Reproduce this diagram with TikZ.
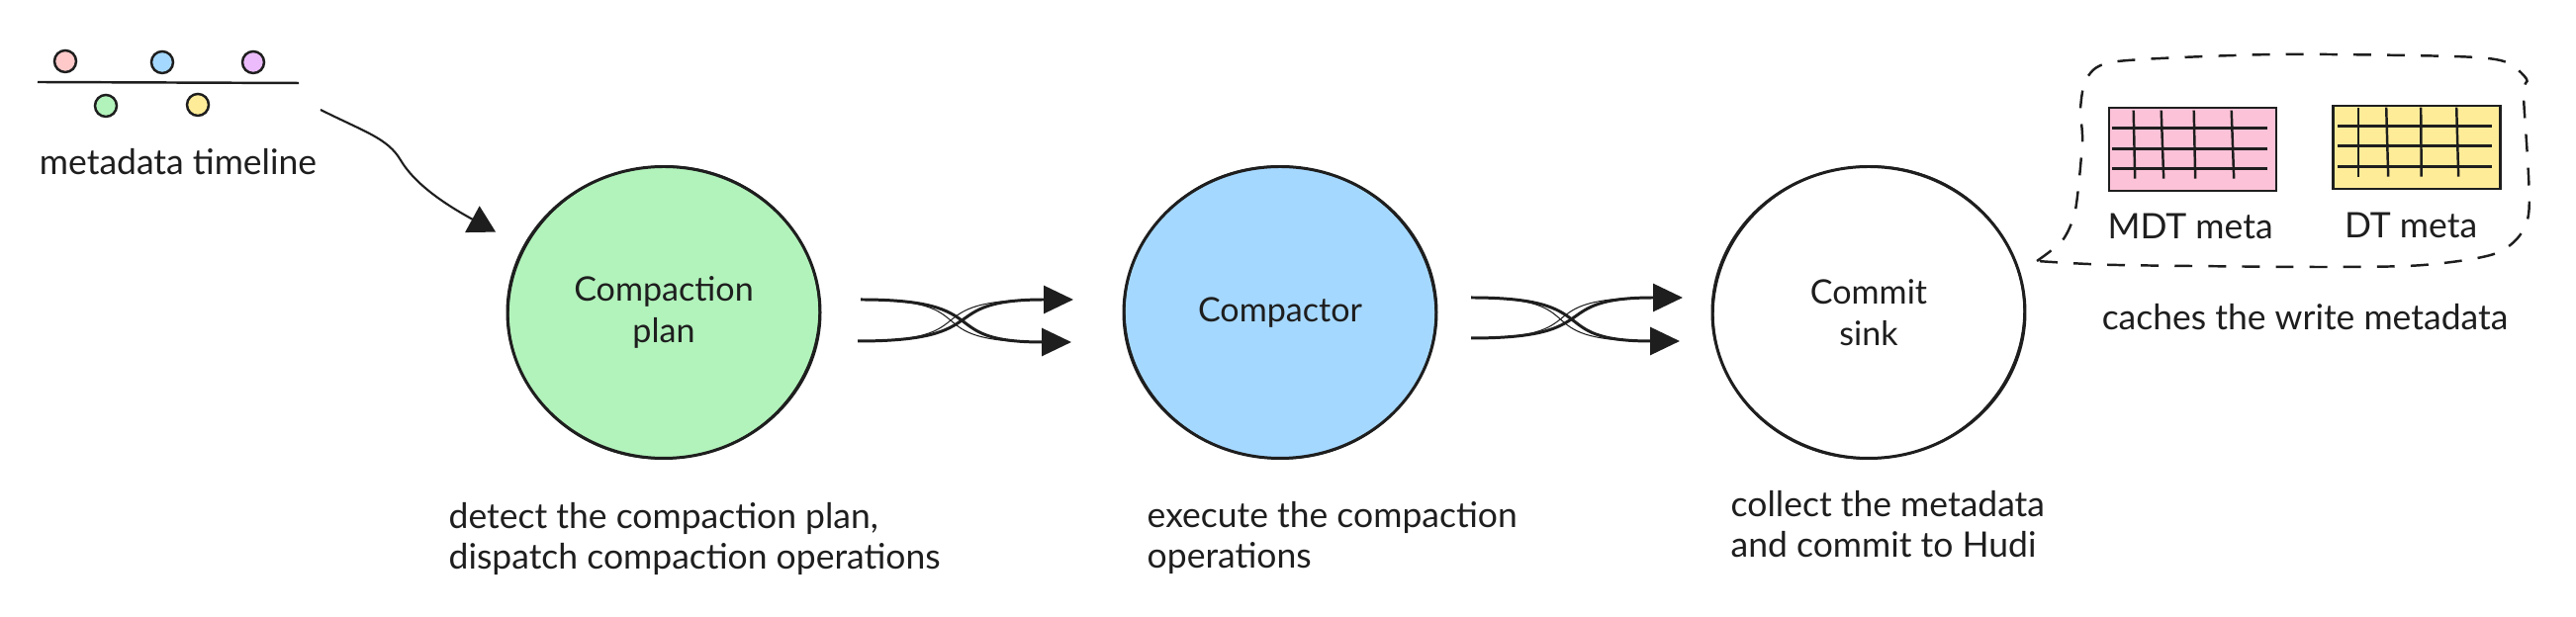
\documentclass[tikz,border=0pt]{standalone}
\usepackage{fontspec}
\setmainfont{Lato}
\usetikzlibrary{positioning,shapes.geometric,arrows.meta}
\definecolor{ink}{HTML}{1E1E1E}
\definecolor{planfill}{HTML}{B2F2BB}
\definecolor{workfill}{HTML}{A5D8FF}
\definecolor{rosefill}{HTML}{FFC9C9}
\definecolor{lilacfill}{HTML}{EBBBFC}
\definecolor{sandfill}{HTML}{FFEC99}
\definecolor{mdtfill}{HTML}{FCC2D7}

\begin{document}
\begin{tikzpicture}
    [node distance=2cm,
     txt/.style={text=ink,font=\fontsize{10.1}{11.5}\selectfont,inner sep=0pt,align=left},
     stage/.style={ellipse,draw=ink,line width=.85pt,minimum width=3.16cm,minimum height=2.95cm,
                   inner sep=0pt,text=ink,align=center,font=\fontsize{9.7}{12.1}\selectfont},
     rough/.style={draw=ink,line width=.35pt},
     dot/.style={circle,draw=ink,line width=.7pt,minimum size=.22cm,inner sep=0pt},
     tbl/.style={draw=ink,line width=.75pt,minimum width=1.69cm,minimum height=.84cm,inner sep=0pt},
     cell/.style={draw=ink,line width=.7pt},
     flow/.style={draw=ink,line width=.85pt,looseness=1.65,-{Triangle[length=.3cm,width=.28cm]}},
     flowb/.style={draw=ink,line width=.3pt,looseness=1.8}]
    \useasboundingbox (0,0) rectangle (26.04,6.24);

    % timeline
    \coordinate (tl0) at (.38,5.41);
    \coordinate (tl1) at (3.02,5.40);
    \draw[ink,line width=.7pt] (tl0) -- (tl1);
    \node[dot,fill=rosefill] (d1) at (.66,5.62) {};
    \node[dot,fill=workfill] (d2) at (1.64,5.61) {};
    \node[dot,fill=lilacfill] (d3) at (2.56,5.61) {};
    \node[dot,fill=planfill] (d4) at (1.07,5.17) {};
    \node[dot,fill=sandfill] (d5) at (2.00,5.18) {};
    \node[txt] (tllabel) at (1.80,4.60) {metadata timeline};

    % the three stages
    \node[stage,fill=planfill] (plan) at (6.71,3.08) {Compaction\\plan};
    \node[stage,fill=workfill] (work) [right=3.04 of plan] {Compactor};
    \node[stage] (sink) [right=2.76 of work] {Commit\\sink};
    \foreach \s/\r in {plan/6,work/-5,sink/7}
        \draw[rough] (\s.center) ellipse [x radius=1.57,y radius=1.48,rotate=\r];

    \coordinate (tlout) at (3.24,5.13);
    \draw[ink,line width=.6pt,shorten >=.31cm,-{Triangle[length=.27cm,width=.3cm]}]
        (tlout) .. controls (3.70,4.90) and (3.92,4.84) .. (4.05,4.62)
        .. controls (4.18,4.40) and (4.45,4.20) .. (plan.155);

    % first crossing
    \coordinate (a1) at (8.70,3.21);
    \coordinate (a2) at (8.67,2.79);
    \coordinate (a3) at (10.85,3.21);
    \coordinate (a4) at (10.83,2.78);
    \draw[flow] (a1) to[out=0,in=180] (a4);
    \draw[flow] (a2) to[out=0,in=180] (a3);
    \draw[flowb,yshift=-1.1pt] (a1) to[out=0,in=180] ([xshift=-.3cm]a4);
    \draw[flowb,yshift=1.1pt] (a2) to[out=0,in=180] ([xshift=-.3cm]a3);

    % second crossing
    \coordinate (b1) at (14.87,3.23);
    \coordinate (b2) at (14.87,2.82);
    \coordinate (b3) at (17.01,3.23);
    \coordinate (b4) at (16.98,2.79);
    \draw[flow] (b1) to[out=0,in=180] (b4);
    \draw[flow] (b2) to[out=0,in=180] (b3);
    \draw[flowb,yshift=-1.1pt] (b1) to[out=0,in=180] ([xshift=-.3cm]b4);
    \draw[flowb,yshift=1.1pt] (b2) to[out=0,in=180] ([xshift=-.3cm]b3);

    % captions
    \node[txt,anchor=west] (plannote) at (4.53,.79) {detect the compaction plan,\\dispatch compaction operations};
    \node[txt,anchor=west] (worknote) at (11.59,.80) {execute the compaction\\operations};
    \node[txt,anchor=west] (sinknote) at (17.49,.94) {collect the metadata\\and commit to Hudi};
    \node[txt] (cachenote) at (23.30,3.03) {caches the write metadata};

    % write metadata cache
    \draw[ink,line width=.7pt,dash pattern=on 5.1pt off 4.6pt] plot[smooth,tension=.45] coordinates
        {(20.59,3.60) (20.85,3.81) (20.98,4.12) (21.05,4.81) (21.03,5.14) (21.10,5.46)
         (21.41,5.62) (23.00,5.69) (24.79,5.67) (25.31,5.62) (25.54,5.44) (25.51,5.27)
         (25.56,4.07) (25.26,3.69) (24.50,3.56) (23.46,3.54) (21.40,3.56) (20.59,3.60)};
    \node[tbl,fill=mdtfill] (mdt) at (22.165,4.73) {};
    \node[tbl,fill=sandfill] (dt) at (24.43,4.75) {};
    \foreach \x/\xx in {.26/.275,.54/.565,.87/.885,1.25/1.275}
        \draw[cell] ([xshift=\x cm,yshift=-.04cm]mdt.north west) -- ([xshift=\xx cm,yshift=-.73cm]mdt.north west);
    \foreach \y in {.22,.43,.63}
        \draw[cell] ([xshift=.04cm,yshift=-\y cm]mdt.north west) -- ([xshift=1.61cm,yshift=-\y cm]mdt.north west);
    \foreach \x/\xx in {.27/.27,.55/.57,.90/.905,1.26/1.28}
        \draw[cell] ([xshift=\x cm,yshift=-.03cm]dt.north west) -- ([xshift=\xx cm,yshift=-.73cm]dt.north west);
    \foreach \y in {.22,.42,.63}
        \draw[cell] ([xshift=.06cm,yshift=-\y cm]dt.north west) -- ([xshift=1.62cm,yshift=-\y cm]dt.north west);
    \node[txt] (mdtlabel) at (22.14,3.95) {MDT meta};
    \node[txt] (dtlabel) at (24.37,3.96) {DT meta};
\end{tikzpicture}
\end{document}
